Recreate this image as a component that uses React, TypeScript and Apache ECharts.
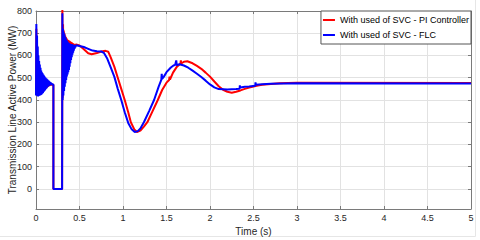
import React, { useEffect, useRef } from "react";
import * as echarts from "echarts";

// Time (s) and transmission-line active power (MW)
const piController: [number, number][] = [
  [0, 430], [0.004, 720], [0.008, 440], [0.012, 650], [0.016, 440], [0.02, 580], [0.025, 440], [0.03, 540],
  [0.035, 440], [0.04, 510], [0.045, 440], [0.05, 495], [0.055, 440], [0.06, 485], [0.065, 442], [0.07, 478],
  [0.075, 443], [0.08, 475], [0.085, 445], [0.09, 472], [0.095, 447], [0.1, 470], [0.105, 450], [0.11, 469],
  [0.115, 453], [0.12, 468], [0.125, 456], [0.13, 468], [0.135, 459], [0.14, 468], [0.15, 465], [0.16, 468],
  [0.2, 469], [0.2, 0], [0.3, 0],
  [0.303, 830], [0.307, 410], [0.311, 740], [0.315, 440], [0.319, 712], [0.323, 470], [0.327, 700], [0.331, 495],
  [0.335, 690], [0.339, 515], [0.343, 683], [0.347, 530], [0.351, 678], [0.355, 545], [0.359, 673], [0.363, 558],
  [0.367, 670], [0.371, 570], [0.375, 668], [0.379, 580], [0.383, 666], [0.387, 590], [0.391, 664], [0.395, 600],
  [0.399, 662], [0.403, 608], [0.407, 660], [0.411, 615], [0.415, 657], [0.419, 622], [0.423, 655], [0.427, 628],
  [0.431, 653], [0.435, 634], [0.44, 651], [0.445, 640],
  [0.46, 650], [0.5, 645], [0.55, 628], [0.6, 610], [0.64, 606], [0.7, 611], [0.75, 618], [0.8, 621], [0.83, 617],
  [0.86, 590], [0.9, 550], [0.94, 500], [0.98, 450], [1.02, 400], [1.06, 345], [1.09, 300], [1.13, 268],
  [1.16, 256], [1.2, 262], [1.24, 280], [1.28, 300], [1.34, 350], [1.4, 400], [1.45, 445], [1.5, 478],
  [1.53, 490], [1.535, 505], [1.54, 492], [1.575, 523], [1.62, 550], [1.66, 563], [1.665, 578], [1.67, 564],
  [1.7, 572], [1.74, 574], [1.8, 565], [1.85, 553], [1.9, 540], [1.95, 523], [2.0, 505], [2.05, 483],
  [2.1, 462], [2.15, 446], [2.2, 437], [2.25, 433], [2.3, 437], [2.35, 443], [2.4, 450], [2.45, 456],
  [2.5, 461], [2.55, 465], [2.6, 468], [2.7, 472], [2.8, 475], [3.0, 477], [5.0, 476],
];

const flc: [number, number][] = [
  [0, 420], [0.004, 741], [0.008, 420], [0.012, 690], [0.016, 418], [0.02, 640], [0.024, 416], [0.028, 600],
  [0.032, 418], [0.036, 575], [0.04, 420], [0.044, 560], [0.048, 420], [0.052, 545], [0.056, 422], [0.06, 532],
  [0.064, 425], [0.068, 525], [0.072, 428], [0.076, 520], [0.08, 432], [0.084, 514], [0.088, 436], [0.092, 510],
  [0.096, 440], [0.1, 505], [0.104, 444], [0.108, 501], [0.112, 448], [0.116, 498], [0.12, 452], [0.124, 495],
  [0.128, 456], [0.132, 492], [0.136, 460], [0.14, 489], [0.144, 462], [0.148, 486], [0.152, 464], [0.156, 483],
  [0.16, 466], [0.164, 480], [0.168, 467], [0.172, 478], [0.176, 468], [0.18, 475], [0.185, 470], [0.19, 472],
  [0.2, 470], [0.2, 0], [0.3, 0],
  [0.303, 790], [0.307, 400], [0.311, 720], [0.315, 420], [0.319, 705], [0.323, 440], [0.327, 695], [0.331, 460],
  [0.335, 685], [0.339, 475], [0.343, 677], [0.347, 490], [0.351, 670], [0.355, 505], [0.359, 665], [0.363, 515],
  [0.367, 660], [0.371, 525], [0.375, 657], [0.379, 535], [0.383, 655], [0.387, 550], [0.391, 653], [0.395, 565],
  [0.399, 652], [0.403, 580], [0.407, 651], [0.411, 592], [0.415, 650], [0.419, 603], [0.423, 649], [0.427, 613],
  [0.431, 648], [0.435, 622], [0.439, 647], [0.443, 630], [0.447, 646], [0.451, 636],
  [0.46, 646], [0.5, 643], [0.55, 638], [0.6, 630], [0.65, 622], [0.7, 619], [0.75, 618], [0.78, 612],
  [0.82, 585], [0.86, 545], [0.9, 505], [0.94, 450], [0.98, 400], [1.02, 345], [1.06, 297], [1.1, 268],
  [1.135, 256], [1.17, 260], [1.2, 272], [1.24, 300], [1.3, 350], [1.357, 400], [1.41, 460], [1.44, 490],
  [1.445, 518], [1.45, 495], [1.47, 505], [1.5, 525], [1.55, 546], [1.58, 555], [1.6, 558], [1.612, 578],
  [1.618, 556], [1.65, 561], [1.7, 555], [1.75, 545], [1.8, 532], [1.85, 518], [1.9, 503], [1.95, 487],
  [2.0, 470], [2.05, 457], [2.1, 449], [2.2, 447], [2.3, 449], [2.34, 451], [2.343, 466], [2.347, 456],
  [2.4, 459], [2.45, 461], [2.52, 464], [2.523, 479], [2.527, 468], [2.6, 471], [2.7, 473], [2.85, 474],
  [3.0, 475], [5.0, 474],
];

const seriesNames = ["With used of SVC - PI Controller", "With used of SVC - FLC"];
const yTicks = [0, 100, 200, 300, 400, 500, 600, 700, 800];
const xLabel = "Time (s)";
const yLabel = "Transmission Line Active Power (MW)";

const FONT = "'Liberation Sans', Arial, Helvetica, sans-serif";
const AXIS = "#7a7a7a";
const TXT = "#262626";
const GRID = "#e2e2e2";

export default function App() {
  const ref = useRef<HTMLDivElement>(null);
  useEffect(() => {
    document.body.style.margin = "0";
    if (!ref.current) return;
    const chart = echarts.init(ref.current, null, { renderer: "svg" });
    const tickInside = { show: true, inside: true, length: 3, lineStyle: { color: AXIS } };
    chart.setOption({
      animation: false,
      backgroundColor: "#ffffff",
      textStyle: { fontFamily: FONT },
      grid: { left: 36, right: 9, top: 11, bottom: 31, containLabel: false, outerBoundsMode: "none" },
      legend: {
        data: seriesNames,
        orient: "vertical",
        right: 9,
        top: 11,
        backgroundColor: "#ffffff",
        borderColor: "#555555",
        borderWidth: 1,
        borderRadius: 0,
        padding: [3, 2, 3, 2],
        itemGap: 3,
        itemWidth: 12,
        itemHeight: 2,
        icon: "rect",
        textStyle: { fontSize: 9, color: "#000000", fontFamily: FONT, lineHeight: 12 },
      },
      xAxis: [
        {
          type: "value",
          min: 0,
          max: 5,
          interval: 0.5,
          position: "bottom",
          name: xLabel,
          nameLocation: "middle",
          nameGap: 17,
          nameTextStyle: { fontSize: 10, color: TXT, fontFamily: FONT },
          axisLine: { show: true, onZero: false, lineStyle: { color: AXIS } },
          axisTick: tickInside,
          axisLabel: { fontSize: 9, color: TXT, margin: 4, fontFamily: FONT },
          splitLine: { show: true, lineStyle: { color: GRID, width: 1 } },
        },
        {
          type: "value",
          min: 0,
          max: 5,
          interval: 0.5,
          position: "top",
          axisLine: { show: true, onZero: false, lineStyle: { color: AXIS } },
          axisTick: tickInside,
          axisLabel: { show: false },
          splitLine: { show: false },
        },
      ],
      yAxis: [
        {
          type: "value",
          min: -90,
          max: 800,
          position: "left",
          name: yLabel,
          nameLocation: "middle",
          nameGap: 19,
          nameMoveOverlap: false,
          nameTextStyle: { fontSize: 10, color: TXT, fontFamily: FONT },
          axisLine: { show: true, onZero: false, lineStyle: { color: AXIS } },
          axisTick: { ...tickInside, customValues: yTicks },
          axisLabel: { fontSize: 9, color: TXT, margin: 4, fontFamily: FONT, customValues: yTicks },
          splitLine: { show: true, lineStyle: { color: GRID, width: 1 } },
        },
        {
          type: "value",
          min: -90,
          max: 800,
          position: "right",
          axisLine: { show: true, onZero: false, lineStyle: { color: AXIS } },
          axisTick: { ...tickInside, customValues: yTicks },
          axisLabel: { show: false, customValues: yTicks },
          splitLine: { show: false },
        },
      ],
      graphic: [
        {
          type: "polyline",
          silent: true,
          shape: { points: [[0, 236.5], [475.5, 236.5], [475.5, 0]] },
          style: { stroke: "#e6e6e6", lineWidth: 1, fill: null },
        },
      ],
      series: [
        {
          name: seriesNames[0],
          type: "line",
          data: piController,
          showSymbol: false,
          symbol: "none",
          clip: true,
          color: "#ff0000",
          lineStyle: { color: "#ff0000", width: 2 },
          z: 2,
        },
        {
          name: seriesNames[1],
          type: "line",
          data: flc,
          showSymbol: false,
          symbol: "none",
          clip: true,
          color: "#0000ff",
          lineStyle: { color: "#0000ff", width: 2 },
          z: 3,
        },
      ],
    });
    return () => chart.dispose();
  }, []);
  return <div ref={ref} style={{ width: 480, height: 240, background: "#fff" }} />;
}
